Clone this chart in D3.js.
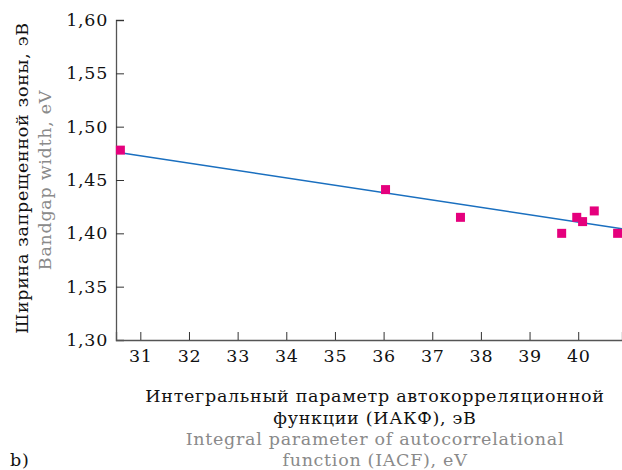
<!DOCTYPE html>
<html>
<head>
<meta charset="utf-8">
<script src="https://cdn.jsdelivr.net/npm/d3@7"></script>
<style>
  body { margin: 0; background: #fff; }
  text { font-family: "DejaVu Serif", serif; letter-spacing: 0.7px; }
</style>
</head>
<body>
<script>
// data
const pointsX = [30.59, 36.04, 37.58, 39.66, 39.97, 40.09, 40.33, 40.81];
const pointsY = [1.478, 1.441, 1.415, 1.400, 1.415, 1.411, 1.421, 1.400];
const fitX = [30.59, 40.9];
const fitY = [1.4756, 1.4042];
const xTicks = [31, 32, 33, 34, 35, 36, 37, 38, 39, 40];
const yTicks = [1.30, 1.35, 1.40, 1.45, 1.50, 1.55, 1.60];

const width = 622, height = 470;
const margin = { left: 116, top: 20, right: 0, bottom: 130 };
const fs = 17.5;

const svg = d3.select("body").append("svg")
  .attr("width", width)
  .attr("height", height);

const x = d3.scaleLinear().domain([30.5, 40.9]).range([margin.left, width - margin.right]);
const y = d3.scaleLinear().domain([1.30, 1.60]).range([height - margin.bottom, margin.top]);

const fmt = d => d.toFixed(2).replace(".", ",");

// y axis, ticks pointing inward
const yAxis = svg.append("g")
  .attr("transform", `translate(${margin.left},0)`)
  .call(d3.axisRight(y).tickValues(yTicks).tickSize(8).tickFormat(fmt));
yAxis.selectAll("text")
  .attr("x", -8)
  .attr("text-anchor", "end")
  .attr("font-size", fs)
  .attr("fill", "#111");

// x axis, ticks pointing inward
const xAxis = svg.append("g")
  .attr("transform", `translate(0,${height - margin.bottom})`)
  .call(d3.axisTop(x).tickValues(xTicks).tickSize(8).tickFormat(d3.format("d")));
xAxis.selectAll("text")
  .attr("y", 16)
  .attr("dy", "0.35em")
  .attr("font-size", fs)
  .attr("fill", "#111");

svg.selectAll(".domain").attr("stroke", "#555").attr("stroke-width", 1.3);
svg.selectAll(".tick line").attr("stroke", "#333");

// fit line
svg.append("path")
  .datum(d3.zip(fitX, fitY))
  .attr("fill", "none")
  .attr("stroke", "#1a6fbf")
  .attr("stroke-width", 1.5)
  .attr("d", d3.line().x(d => x(d[0])).y(d => y(d[1])));

// markers
const s = 9;
svg.selectAll(".pt")
  .data(d3.zip(pointsX, pointsY))
  .enter()
  .append("rect")
  .attr("class", "pt")
  .attr("x", d => x(d[0]) - s / 2)
  .attr("y", d => y(d[1]) - s / 2)
  .attr("width", s)
  .attr("height", s)
  .attr("fill", "#e5007d");

// y titles
svg.append("text")
  .attr("transform", "translate(28,178) rotate(-90)")
  .attr("text-anchor", "middle")
  .attr("font-size", fs)
  .attr("fill", "#111")
  .text("Ширина запрещенной зоны, эВ");
svg.append("text")
  .attr("transform", "translate(51,180) rotate(-90)")
  .attr("text-anchor", "middle")
  .attr("font-size", fs)
  .attr("fill", "#8a8a8a")
  .text("Bandgap width, eV");

// x titles
const xt = [
  ["Интегральный параметр автокорреляционной", "#111", 402],
  ["функции (ИАКФ), эВ", "#111", 424],
  ["Integral parameter of autocorrelational", "#8a8a8a", 445],
  ["function (IACF), eV", "#8a8a8a", 466]
];
svg.selectAll(".xt")
  .data(xt)
  .enter()
  .append("text")
  .attr("x", 375)
  .attr("y", d => d[2])
  .attr("text-anchor", "middle")
  .attr("font-size", fs)
  .attr("fill", d => d[1])
  .text(d => d[0]);

svg.append("text")
  .attr("x", 10)
  .attr("y", 466)
  .attr("font-size", fs)
  .attr("fill", "#111")
  .text("b)");
</script>
</body>
</html>
